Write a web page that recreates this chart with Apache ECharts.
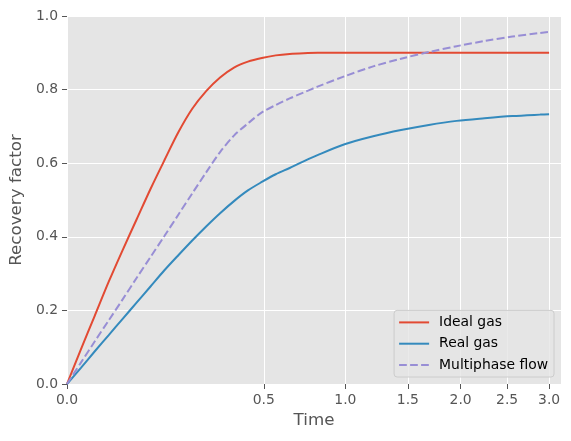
<!DOCTYPE html>
<html>
<head>
<meta charset="utf-8">
<script src="https://cdn.jsdelivr.net/npm/echarts@6/dist/echarts.min.js"></script>
<style>html,body{margin:0;padding:0;background:#fff}#c{width:571px;height:441px}</style>
</head>
<body>
<div id="c"></div>
<script>
// Time values (x axis is drawn on a square-root scale)
var time = [0, 0.0025, 0.01, 0.0225, 0.04, 0.0625, 0.09, 0.1225, 0.16, 0.2025, 0.25, 0.3025, 0.36, 0.4225, 0.49, 0.5625, 0.64, 0.7225, 0.81, 1.0, 1.21, 1.44, 1.69, 1.96, 2.25, 2.56, 2.89, 3.0];
var idealGas = [0, 0.094, 0.186, 0.278, 0.364, 0.447, 0.530, 0.608, 0.684, 0.748, 0.796, 0.833, 0.860, 0.876, 0.886, 0.893, 0.897, 0.899, 0.900, 0.900, 0.900, 0.900, 0.900, 0.900, 0.900, 0.900, 0.900, 0.900];
var realGas = [0, 0.044, 0.089, 0.133, 0.177, 0.221, 0.265, 0.309, 0.350, 0.390, 0.428, 0.464, 0.497, 0.526, 0.549, 0.570, 0.587, 0.605, 0.622, 0.652, 0.673, 0.690, 0.704, 0.715, 0.722, 0.728, 0.732, 0.733];
var multiphase = [0, 0.058, 0.116, 0.173, 0.230, 0.288, 0.345, 0.402, 0.460, 0.518, 0.575, 0.630, 0.675, 0.708, 0.738, 0.758, 0.776, 0.792, 0.808, 0.837, 0.863, 0.884, 0.902, 0.918, 0.932, 0.944, 0.954, 0.957];
var xTicks = [0, 0.5, 1.0, 1.5, 2.0, 2.5, 3.0];
var xMaxTime = 3.15;
var seriesNames = ['Ideal gas', 'Real gas', 'Multiphase flow'];

function sq(t) { return Math.sqrt(t); }
function pairs(vals) { return time.map(function (t, i) { return [sq(t), vals[i]]; }); }
var tickPos = xTicks.map(sq);

var chart = echarts.init(document.getElementById('c'), null, {renderer: 'canvas'});
var font = 'DejaVu Sans';
chart.setOption({
  animation: false,
  backgroundColor: '#ffffff',
  grid: {left: 66, right: 10, top: 16, bottom: 57, show: true, backgroundColor: '#E5E5E5', borderWidth: 0},
  xAxis: {
    type: 'value', min: 0, max: sq(xMaxTime),
    name: 'Time', nameLocation: 'middle', nameGap: 28,
    nameTextStyle: {fontFamily: font, fontSize: 16.7, color: '#555555'},
    axisLine: {show: false},
    axisTick: {show: true, customValues: tickPos, length: 5, lineStyle: {color: '#555555', width: 1}},
    axisLabel: {customValues: tickPos, margin: 9, fontFamily: font, fontSize: 13.9, color: '#555555',
      formatter: function (v) { return (v * v).toFixed(1); }},
    splitLine: {show: true, lineStyle: {color: '#ffffff', width: 1}}
  },
  yAxis: {
    type: 'value', min: 0, max: 1, interval: 0.2,
    name: 'Recovery factor', nameLocation: 'middle', nameGap: 40,
    nameTextStyle: {fontFamily: font, fontSize: 16.7, color: '#555555'},
    axisLine: {show: false},
    axisTick: {show: true, length: 5, lineStyle: {color: '#555555', width: 1}},
    axisLabel: {margin: 9, fontFamily: font, fontSize: 13.9, color: '#555555',
      formatter: function (v) { return v.toFixed(1); }},
    splitLine: {show: true, lineStyle: {color: '#ffffff', width: 1}}
  },
  legend: {
    orient: 'vertical', right: 17, bottom: 64,
    itemStyle: {opacity: 0},
    backgroundColor: 'rgba(229,229,229,0.8)', borderColor: '#cccccc', borderWidth: 1, borderRadius: 3,
    padding: [5, 6, 5, 4], itemWidth: 30, itemHeight: 14, itemGap: 7.3,
    textStyle: {fontFamily: font, fontSize: 13.9, color: '#000000', padding: [0, 0, 0, 5]},
    data: seriesNames
  },
  series: [
    {name: seriesNames[0], type: 'line', data: pairs(idealGas), symbol: 'none', smooth: 0.3,
      lineStyle: {color: '#E24A33', width: 2}, itemStyle: {color: '#E24A33'}},
    {name: seriesNames[1], type: 'line', data: pairs(realGas), symbol: 'none', smooth: 0.3,
      lineStyle: {color: '#348ABD', width: 2}, itemStyle: {color: '#348ABD'}},
    {name: seriesNames[2], type: 'line', data: pairs(multiphase), symbol: 'none', smooth: 0.3,
      lineStyle: {color: '#988ED5', width: 2, type: [7.7, 3.3]}, itemStyle: {color: '#988ED5'}}
  ]
});
</script>
</body>
</html>
